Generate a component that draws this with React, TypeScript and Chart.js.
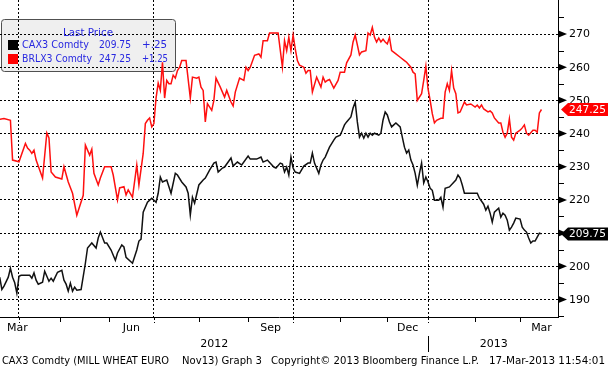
import { useEffect, useRef } from 'react';
import { Chart, registerables } from 'chart.js';

Chart.register(...registerables);

// ---- DATA (x = trading-day index, 0 = 20-Mar-2012 ... 253 = 15-Mar-2013) ----
const caxIdx = [0,1,2,4,5,6,7,8,9,10,14,15,16,17,18,20,21,23,24,25,27,29,30,31,32,33,34,35,36,38,40,41,43,45,46,47,49,50,52,54,55,57,58,59,62,64,65,66,67,69,71,73,74,75,76,78,80,82,83,85,87,88,89,90,91,93,95,96,98,100,101,102,104,105,108,109,111,113,116,117,120,122,123,125,128,129,131,132,133,134,135,136,137,138,140,142,144,145,146,147,149,150,151,152,154,156,157,159,160,161,162,164,165,166,167,168,169,170,171,172,173,174,175,177,178,179,180,181,182,183,184,185,187,188,189,190,191,192,193,194,195,196,197,198,199,200,201,202,203,205,206,207,208,210,213,214,215,216,217,220,223,224,226,227,228,229,230,231,233,234,235,236,237,238,239,240,241,243,244,245,246,247,248,249,250,251,252,253];
const caxVal = [196.7,193,194,196.7,199.4,196.7,195,191.9,197,197.3,197.3,196.4,198,195.8,194.6,195.2,198.5,195.5,196.4,195.5,198.2,198.8,195.8,194.6,192.5,194.9,192.5,193.7,192.8,193,200.9,205.5,207,205.5,208.5,210.3,207,207,204.9,201.8,204,206.4,205.8,202.7,200.9,204.9,207.6,208.2,216.3,219.3,220.5,219.3,222,226.9,225.4,226,222,228,227.5,225.4,223.9,222,215.4,220.8,219,224.5,226,226.6,229,231.1,231.4,228.4,229.6,229.9,232.6,230.2,231.4,230.5,233.2,232.3,232.3,232.9,231.4,232,229.9,229.6,231.1,230.8,228.4,229.9,227.5,232.9,229.6,228.4,228,230.2,231.1,231.1,234.1,231.1,228,230.5,232,232.9,235.9,238,238.9,239.5,241,242.6,243.5,245,247.7,249.5,243.5,238.9,240.1,238.6,240.1,238.9,240.1,239.5,240.1,239.5,240.1,244.1,246.5,245.6,243.5,242,242.6,243.2,242,238.9,235.9,234.1,235,232,230.5,228,224.4,228,231.1,225.1,226.9,225.4,223.5,222.9,219.9,219.9,220.8,217.8,223.5,223.9,226,227.5,226.6,224.5,222,222,222,220.5,218.7,216.9,218.1,216,213.3,216.3,217.5,214.8,216,215.4,213.9,210.9,211.8,213,214.5,214.2,211.8,210.9,210.3,208.5,207,207.6,207.6,208.8,210,209.75];

const brlIdx = [0,2,5,6,9,12,13,14,15,16,17,20,22,23,24,26,29,30,32,34,36,39,40,42,43,44,46,47,49,52,53,55,56,58,59,60,62,64,65,67,68,69,70,71,72,73,74,75,76,77,78,79,80,81,82,83,84,85,87,89,90,92,93,94,95,96,97,99,100,101,103,105,106,108,109,110,112,114,115,116,117,119,121,122,123,125,126,130,132,133,134,135,136,137,138,139,140,142,143,144,145,146,148,150,151,152,153,154,156,158,159,161,162,164,165,166,167,168,169,171,172,173,174,175,176,177,178,179,180,181,182,183,185,187,189,190,192,193,194,195,197,198,199,200,201,202,203,204,206,207,208,209,210,211,212,213,214,215,217,218,220,222,223,224,225,226,228,229,230,231,233,234,235,236,237,238,239,240,241,243,244,245,246,247,249,250,251,252,253];
const brlVal = [244.3,244.5,244,232,231.5,237,235.6,235,234,235,232,226.6,240.2,238.7,228.4,226.9,226.3,230,225.4,222,215.4,221.4,236.5,233.5,235.3,228,224.5,226.6,230,230,227.5,220,223.6,224,221.5,223,220.8,230.5,224.5,234,243,244,244.7,242,243,250.7,255.2,253,261.5,250.7,256,255,255,257.6,256.7,259,260,262,262,250.7,257,256.7,257,254,253,243.5,249,247,250,256.7,254,251,253,249.5,248.3,252.5,256.7,256,260,259,260,263.6,264,263,268,268,270.3,270.3,260,268,265,269,265,269.7,265.5,262,260.6,260,258.2,259,259,252.5,257,254,257,255.5,256,256.3,253.7,256,258.5,258.5,261.3,263.7,267.6,269.7,266.7,263.7,264.6,265,270.3,269.7,272,269,267.6,268.8,267.6,268.4,267.6,267,269,265,264,263,262,261.5,260,258.5,258,250,252,256,260.3,253.5,250,246,243.2,244,244.6,244.6,252.5,255,253,259,253.7,252,246.2,246.5,249.5,248.6,248.9,248,248.6,247.7,248.6,247.4,246.5,246.8,246.2,244.7,243.2,243.2,240.4,238.9,240.1,244.4,238.9,238,240.1,241,241.7,242.6,240.1,239.5,241,241,240.4,246.2,247.25];

// axis ticks / labels
const monthStartIdx = [9, 28, 51, 72, 93, 116, 137, 159, 181, 200, 222, 243];
const quarterIdx = [9, 72, 137, 200];
const monthLabels = ['Mar', 'Jun', 'Sep', 'Dec', 'Mar'];
const monthLabelFrom = [-12, 51, 116, 181, 243];
const monthLabelTo = [9, 72, 137, 200, 263];
const yearLabels = ['2012', '2013'];
const yearBoundaryIdx = 200;
const yMajorTicks = [190, 200, 210, 220, 230, 240, 250, 260, 270];
const yMinorTicks = [185, 195, 205, 215, 225, 235, 245, 255, 265, 275];

const seriesNames = ['CAX3 Comdty', 'BRLX3 Comdty'];
const lastPrices = ['209.75', '247.25'];
const lastValues = [209.75, 247.25];
const changes = ['+.25', '+1.25'];
const footerParts = ['CAX3 Comdty (MILL WHEAT EURO', 'Nov13) Graph 3', 'Copyright\u00A9 2013 Bloomberg Finance L.P.', '17-Mar-2013 11:54:01'];

const X_MIN = 0.13;
const X_MAX = 261.17;
const Y_MIN = 184.4;
const Y_MAX = 280.25;

const FONT = '11px "DejaVu Sans", "Liberation Sans", sans-serif';

function fitText(ctx: CanvasRenderingContext2D, text: string, left: number, cy: number, width: number) {
  const w = ctx.measureText(text).width;
  ctx.save();
  ctx.translate(left, cy);
  ctx.scale(width / w, 1);
  ctx.textAlign = 'left';
  ctx.textBaseline = 'middle';
  ctx.fillText(text, 0, 0);
  ctx.restore();
}

function roundRect(ctx: CanvasRenderingContext2D, x: number, y: number, w: number, h: number, r: number) {
  ctx.beginPath();
  ctx.moveTo(x + r, y);
  ctx.lineTo(x + w - r, y);
  ctx.quadraticCurveTo(x + w, y, x + w, y + r);
  ctx.lineTo(x + w, y + h - r);
  ctx.quadraticCurveTo(x + w, y + h, x + w - r, y + h);
  ctx.lineTo(x + r, y + h);
  ctx.quadraticCurveTo(x, y + h, x, y + h - r);
  ctx.lineTo(x, y + r);
  ctx.quadraticCurveTo(x, y, x + r, y);
  ctx.closePath();
}

const bbgPlugin = {
  id: 'bbg',
  beforeDraw(chart: any) {
    const ctx: CanvasRenderingContext2D = chart.ctx;
    ctx.save();
    ctx.fillStyle = '#ffffff';
    ctx.fillRect(0, 0, chart.width, chart.height);
    roundRect(ctx, 1.5, 19.5, 174, 52, 3);
    ctx.fillStyle = '#efefef';
    ctx.fill();
    ctx.strokeStyle = '#505050';
    ctx.lineWidth = 1;
    ctx.stroke();
    ctx.restore();
  },
  afterDraw(chart: any) {
    const ctx: CanvasRenderingContext2D = chart.ctx;
    const xs = chart.scales.x;
    const ys = chart.scales.y;
    const area = chart.chartArea;
    const axX = area.right - 0.5;
    const axY = area.bottom - 0.5;
    ctx.save();
    ctx.font = FONT;
    ctx.strokeStyle = '#000';
    ctx.fillStyle = '#000';
    ctx.lineWidth = 1;
    // axis lines
    ctx.beginPath();
    ctx.moveTo(axX, 0);
    ctx.lineTo(axX, area.bottom);
    ctx.moveTo(0, axY);
    ctx.lineTo(area.right, axY);
    ctx.stroke();

    // x month ticks
    monthStartIdx.forEach((m) => {
      const px = Math.round(xs.getPixelForValue(m)) + 0.5;
      ctx.beginPath();
      if (quarterIdx.includes(m)) {
        ctx.setLineDash([2, 2]);
        ctx.moveTo(px, area.bottom);
        ctx.lineTo(px, area.bottom + 5);
      } else {
        ctx.setLineDash([]);
        ctx.moveTo(px, area.bottom);
        ctx.lineTo(px, area.bottom + 4);
      }
      ctx.stroke();
    });
    ctx.setLineDash([]);

    // month labels
    ctx.textAlign = 'center';
    ctx.textBaseline = 'middle';
    monthLabels.forEach((lab, i) => {
      let cx = (xs.getPixelForValue(monthLabelFrom[i]) + xs.getPixelForValue(monthLabelTo[i])) / 2;
      const hw = ctx.measureText(lab).width / 2;
      if (cx - hw < 7) cx = 7 + hw;
      if (cx + hw > area.right - 7) cx = area.right - 7 - hw;
      ctx.fillText(lab, cx, 328);
    });

    // year labels + separator
    const bx = Math.round(xs.getPixelForValue(yearBoundaryIdx)) + 0.5;
    ctx.fillText(yearLabels[0], (area.left + bx) / 2, 344);
    ctx.fillText(yearLabels[1], (bx + area.right) / 2, 344);
    ctx.beginPath();
    ctx.moveTo(bx, 336);
    ctx.lineTo(bx, 352);
    ctx.stroke();

    // y ticks
    yMinorTicks.forEach((v) => {
      const py = Math.round(ys.getPixelForValue(v)) + 0.5;
      ctx.beginPath();
      ctx.moveTo(area.right, py);
      ctx.lineTo(area.right + 5, py);
      ctx.stroke();
    });
    yMajorTicks.forEach((v) => {
      const py = ys.getPixelForValue(v);
      ctx.beginPath();
      ctx.moveTo(area.right - 0.5, py - 3.5);
      ctx.lineTo(area.right + 8, py);
      ctx.lineTo(area.right - 0.5, py + 3.5);
      ctx.closePath();
      ctx.fill();
      ctx.textAlign = 'left';
      ctx.fillText(String(v), area.right + 10, py + 0.5);
    });

    // last price tags
    const tagColors = ['#000000', '#ff0000'];
    lastValues.forEach((v, i) => {
      const py = ys.getPixelForValue(v);
      ctx.fillStyle = tagColors[i];
      ctx.beginPath();
      ctx.moveTo(area.right + 2, py);
      ctx.lineTo(area.right + 9, py - 6.5);
      ctx.lineTo(chart.width, py - 6.5);
      ctx.lineTo(chart.width, py + 6.5);
      ctx.lineTo(area.right + 9, py + 6.5);
      ctx.closePath();
      ctx.fill();
      ctx.fillStyle = '#ffffff';
      fitText(ctx, lastPrices[i], area.right + 10, py + 0.5, 37);
    });

    // legend content
    ctx.fillStyle = '#2828e0';
    fitText(ctx, 'Last Price', 63, 33, 50);
    const rowY = [45, 59];
    const nameW = [67, 70];
    const chgW = [25, 26];
    const sqColors = ['#000000', '#ff0000'];
    rowY.forEach((ry, i) => {
      ctx.fillStyle = sqColors[i];
      ctx.fillRect(8, ry - 5, 10, 10);
      ctx.fillStyle = '#2828e0';
      fitText(ctx, seriesNames[i], 22, ry, nameW[i]);
      fitText(ctx, lastPrices[i], 99, ry, 32);
      fitText(ctx, changes[i], 142, ry, chgW[i]);
    });

    // footer
    ctx.fillStyle = '#000';
    const fx = [2, 182, 271, 489];
    const fw = [167, 80, 208, 116];
    footerParts.forEach((t, i) => fitText(ctx, t, fx[i], 361, fw[i]));
    ctx.restore();
  },
};

export default function App() {
  const ref = useRef<HTMLCanvasElement>(null);
  useEffect(() => {
    const canvas = ref.current;
    if (!canvas) return;
    const chart = new Chart(canvas, {
      type: 'line',
      data: {
        datasets: [
          {
            label: seriesNames[0],
            data: caxIdx.map((x, i) => ({ x, y: caxVal[i] })),
            borderColor: '#111111',
            borderWidth: 1.5,
            pointRadius: 0,
            tension: 0,
          },
          {
            label: seriesNames[1],
            data: brlIdx.map((x, i) => ({ x, y: brlVal[i] })),
            borderColor: '#ff1010',
            borderWidth: 1.5,
            pointRadius: 0,
            tension: 0,
          },
        ],
      },
      options: {
        animation: false,
        responsive: false,
        devicePixelRatio: 1,
        events: [],
        layout: { padding: 0 },
        plugins: { legend: { display: false }, tooltip: { enabled: false }, title: { display: false } },
        scales: {
          x: {
            type: 'linear',
            position: 'bottom',
            min: X_MIN,
            max: X_MAX,
            afterBuildTicks: (s: any) => {
              s.ticks = quarterIdx.map((v) => ({ value: v }));
            },
            afterFit: (s: any) => {
              s.height = 51;
            },
            ticks: { display: false },
            grid: { color: '#000', lineWidth: 1, drawTicks: false },
            border: { display: false, dash: [2, 2] },
          },
          y: {
            type: 'linear',
            position: 'right',
            min: Y_MIN,
            max: Y_MAX,
            afterBuildTicks: (s: any) => {
              s.ticks = yMajorTicks.map((v) => ({ value: v }));
            },
            afterFit: (s: any) => {
              s.width = 49;
            },
            ticks: { display: false },
            grid: { color: '#000', lineWidth: 1, drawTicks: false },
            border: { display: false, dash: [2, 2] },
          },
        },
      },
      plugins: [bbgPlugin],
    } as any);
    return () => chart.destroy();
  }, []);
  return (
    <div style={{ position: 'fixed', left: 0, top: 0, width: 608, height: 369, background: '#fff' }}>
      <canvas ref={ref} width={608} height={369} style={{ display: 'block', width: 608, height: 369 }} />
    </div>
  );
}
